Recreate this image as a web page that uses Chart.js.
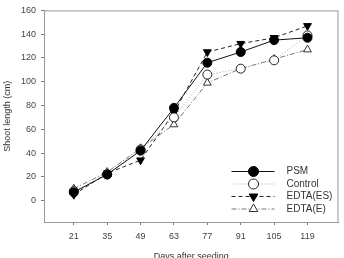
<!DOCTYPE html>
<html>
<head>
<meta charset="utf-8">
<script src="https://cdn.jsdelivr.net/npm/chart.js@4/dist/chart.umd.min.js"></script>
<style>
  html, body { margin: 0; padding: 0; background: #fff; }
  #wrap { width: 344px; height: 258px; }
</style>
</head>
<body>
<div id="wrap"><canvas id="c" width="344" height="258"></canvas></div>
<script>
const days = [21, 35, 49, 63, 77, 91, 105, 119];
const psm = [7, 22, 42, 78, 116, 125, 135, 137];
const control = [8, 22, 43, 70, 106, 111, 118, 139];
const edtaES = [5, 23, 34, 74, 125, 132, 137, 147];
const edtaE = [10, 24, 44, 64, 99, 111, 119, 127];
const yTicks = [0, 20, 40, 60, 80, 100, 120, 140, 160];

const font = { family: "'Liberation Sans', Arial, sans-serif", size: 9 };

function pts(vals) {
  return vals.map((v, i) => ({ x: days[i], y: v }));
}

const datasets = [
  { label: "PSM", data: pts(psm), borderColor: "#111", borderWidth: 1,
    pointStyle: "circle", pointRadius: 4.5, pointBackgroundColor: "#000", pointBorderColor: "#000" },
  { label: "Control", data: pts(control), borderColor: "#aaa", borderWidth: 1, borderDash: [1, 2],
    pointStyle: "circle", pointRadius: 4.5, pointBackgroundColor: "#fff", pointBorderColor: "#222" },
  { label: "EDTA(ES)", data: pts(edtaES), borderColor: "#222", borderWidth: 1, borderDash: [4, 3],
    pointStyle: "triangle", rotation: 180, pointRadius: 4.5, pointBackgroundColor: "#000", pointBorderColor: "#000" },
  { label: "EDTA(E)", data: pts(edtaE), borderColor: "#777", borderWidth: 1, borderDash: [5, 2, 1, 2],
    pointStyle: "triangle", pointRadius: 4.5, pointBackgroundColor: "#fff", pointBorderColor: "#333" }
];
datasets.forEach(d => { d.pointBorderWidth = 1; d.fill = false; d.tension = 0; d.pointRotation = d.rotation || 0; });

// frame around plot + legend with line and marker samples
const frameLegend = {
  id: "frameLegend",
  afterDraw(chart) {
    const ctx = chart.ctx, a = chart.chartArea;
    ctx.save();
    ctx.strokeStyle = "#999";
    ctx.lineWidth = 1;
    ctx.strokeRect(a.left + 0.5, a.top + 0.5, a.right - a.left - 1, a.bottom - a.top);
    const lx = a.right - 107, ly = a.bottom - 50.5;
    chart.data.datasets.forEach((d, i) => {
      const y = ly + i * 12.5;
      ctx.beginPath();
      ctx.setLineDash(d.borderDash || []);
      ctx.strokeStyle = d.borderColor;
      ctx.lineWidth = 1;
      ctx.moveTo(lx, y);
      ctx.lineTo(lx + 43, y);
      ctx.stroke();
      ctx.setLineDash([]);
      ctx.fillStyle = d.pointBackgroundColor;
      ctx.strokeStyle = d.pointBorderColor;
      Chart.helpers.drawPoint(ctx, { pointStyle: d.pointStyle, rotation: d.pointRotation, radius: 5, borderWidth: 1 }, lx + 22, y);
      ctx.fillStyle = "#333";
      ctx.font = "10px 'Liberation Sans', Arial, sans-serif";
      ctx.textBaseline = "middle";
      ctx.fillText(d.label, lx + 55, y);
    });
    ctx.restore();
  }
};

new Chart(document.getElementById("c"), {
  type: "line",
  data: { datasets },
  plugins: [frameLegend],
  options: {
    responsive: false,
    animation: false,
    layout: { padding: { top: 8, right: 4, left: 2, bottom: 0 } },
    plugins: { legend: { display: false }, tooltip: { enabled: false } },
    scales: {
      x: {
        type: "linear", min: 8.5, max: 132,
        afterBuildTicks: s => { s.ticks = days.map(v => ({ value: v })); },
        afterFit: s => { s.height = 36; },
        grid: { drawOnChartArea: false, drawTicks: true, tickLength: 3, color: "#777" },
        border: { color: "#777" },
        ticks: { color: "#444", font, padding: 6 },
        title: { display: true, text: "Days after seeding", color: "#333", font, padding: { top: 0, bottom: -4 } }
      },
      y: {
        min: -18, max: 160,
        afterBuildTicks: s => { s.ticks = yTicks.map(v => ({ value: v })); },
        afterFit: s => { s.width = 42; },
        grid: { drawOnChartArea: false, drawTicks: true, tickLength: 3, color: "#777" },
        border: { color: "#777" },
        ticks: { color: "#444", font, padding: 5 },
        title: { display: true, text: "Shoot length (cm)", color: "#333", font, padding: 0 }
      }
    }
  }
});
</script>
</body>
</html>
